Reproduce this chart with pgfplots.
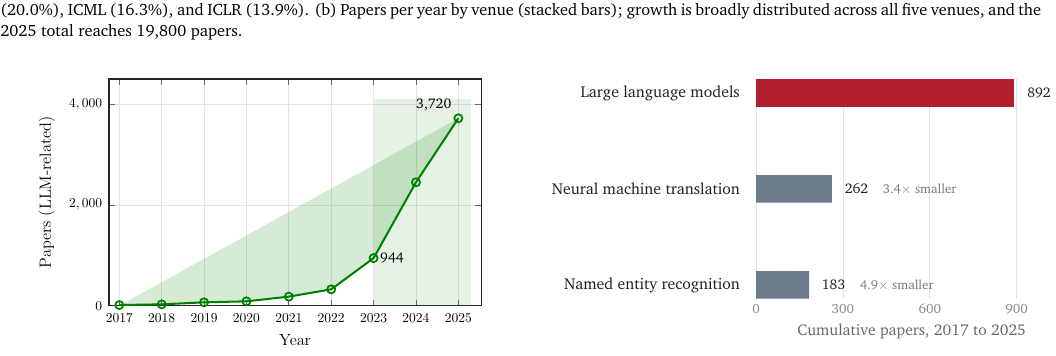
\documentclass[border=0pt]{standalone}
\usepackage[T1,OT1]{fontenc}
\usepackage{pgfplots}
\pgfplotsset{compat=1.18}
\newcommand\ch{\fontencoding{T1}\fontfamily{bch}\selectfont}
\definecolor{lgreen}{RGB}{0,128,0}
\definecolor{llmred}{RGB}{178,31,45}
\definecolor{slate}{RGB}{108,122,137}
\definecolor{gridgray}{RGB}{228,228,228}
\definecolor{txtgray}{RGB}{105,105,105}
\definecolor{smallgray}{RGB}{120,120,120}
\definecolor{tickgray}{RGB}{135,135,135}
\begin{document}
\begin{tikzpicture}
\useasboundingbox (0,0) rectangle (782.2pt,-263pt);
\node[anchor=base west, inner sep=0pt] at (0pt,-11.6pt) {\ch\fontsize{12.1}{14}\selectfont\hbox to 770pt{(20.0\%), ICML (16.3\%), and ICLR (13.9\%). (b) Papers per year by venue (stacked bars); growth is broadly distributed across all five venues, and the}};
\node[anchor=base west, inner sep=0pt] at (0pt,-26.7pt) {\ch\fontsize{12.1}{14}\selectfont 2025 total reaches 19,800 papers.};

\begin{axis}[
  at={(80.74pt,-226.4pt)}, anchor=south west,
  scale only axis, width=275.6pt, height=167.9pt,
  xmin=2016.757, xmax=2025.536, ymin=0, ymax=4500,
  xtick={2017,2018,2019,2020,2021,2022,2023,2024,2025},
  xticklabels={2017,2018,2019,2020,2021,2022,2023,2024,2025},
  ytick={0,2000,4000},
  scaled y ticks=false,
  /pgf/number format/1000 sep={\mathpunct{,}},
  grid=major, grid style={gridgray, line width=0.6pt},
  axis line style={black!85, line width=0.8pt},
  tick style={black!60, line width=0.6pt},
  tick label style={font=\fontsize{10.3}{12}\selectfont},
  xticklabel style={yshift=-2.5pt},
  yticklabel style={xshift=-1.5pt},
  xlabel={Year}, ylabel={Papers (LLM-related)},
  label style={font=\fontsize{11.8}{14}\selectfont},
  xlabel style={at={(axis description cs:0.5,-0.152)}, anchor=center},
  ylabel style={at={(axis description cs:-0.167,0.5)}, anchor=center},
]
\addplot[draw=none, fill=lgreen, fill opacity=0.10] coordinates {(2023,0) (2023,4100) (2025.29,4100) (2025.29,0)} -- cycle;
\addplot[draw=none, fill=lgreen, fill opacity=0.16] coordinates {(2017,0) (2025,3720) (2024,2449) (2023,944) (2022,324) (2021,179) (2020,86) (2019,66) (2018,26) (2017,12)} -- cycle;
\addplot[lgreen, line width=1.5pt, mark=o, mark size=3pt, mark options={line width=1.3pt}] coordinates {(2017,12) (2018,26) (2019,66) (2020,86) (2021,179) (2022,324) (2023,944) (2024,2449) (2025,3720)};
\node[anchor=west, inner sep=0pt, xshift=4.7pt] at (axis cs:2023,944) {\ch\fontsize{10.4}{12}\selectfont 944};
\node[anchor=center, inner sep=0pt, xshift=-18.2pt, yshift=9.9pt] at (axis cs:2025,3720) {\ch\fontsize{10.4}{12}\selectfont 3,720};
\end{axis}

\begin{axis}[
  at={(560.0pt,-221.7pt)}, anchor=south west,
  scale only axis, width=193.1pt, height=163.6pt,
  xmin=0, xmax=900, ymin=-0.15, ymax=2.15, y dir=reverse,
  xbar, bar width=20.5pt,
  axis line style={draw=none}, major tick length=0pt, tick style={draw=none},
  xmajorgrids, grid style={gridgray, line width=0.6pt},
  xtick={0,300,600,900}, xticklabels={0,300,600,900},
  ytick={0,1,2},
  yticklabels={Large language models, Neural machine translation, Named entity recognition},
  yticklabel style={font=\ch\fontsize{11.7}{14}\selectfont, text=black!88, xshift=-8.5pt},
  xticklabel style={font=\ch\fontsize{10}{12}\selectfont, text=tickgray},
  xlabel={Cumulative papers, 2017 to 2025},
  xlabel style={at={(axis description cs:0.597,-0.147)}, anchor=center, font=\ch\fontsize{11.6}{14}\selectfont, text=txtgray},
  point meta=explicit symbolic,
  nodes near coords,
  every node near coord/.append style={anchor=west, xshift=6pt, font=\ch\fontsize{10.4}{12}\selectfont, text=black!88},
]
\addplot[xbar, bar shift=0pt, fill=llmred, draw=none] coordinates {(892,0) [892]};
\addplot[xbar, bar shift=0pt, fill=slate, draw=none] coordinates {
  (262,1) [{262\hspace{10.9pt}{\fontsize{9.6}{11}\selectfont\color{smallgray}3.4$\times$ smaller}}]
  (183,2) [{183\hspace{10.9pt}{\fontsize{9.6}{11}\selectfont\color{smallgray}4.9$\times$ smaller}}]
};
\end{axis}
\end{tikzpicture}
\end{document}
